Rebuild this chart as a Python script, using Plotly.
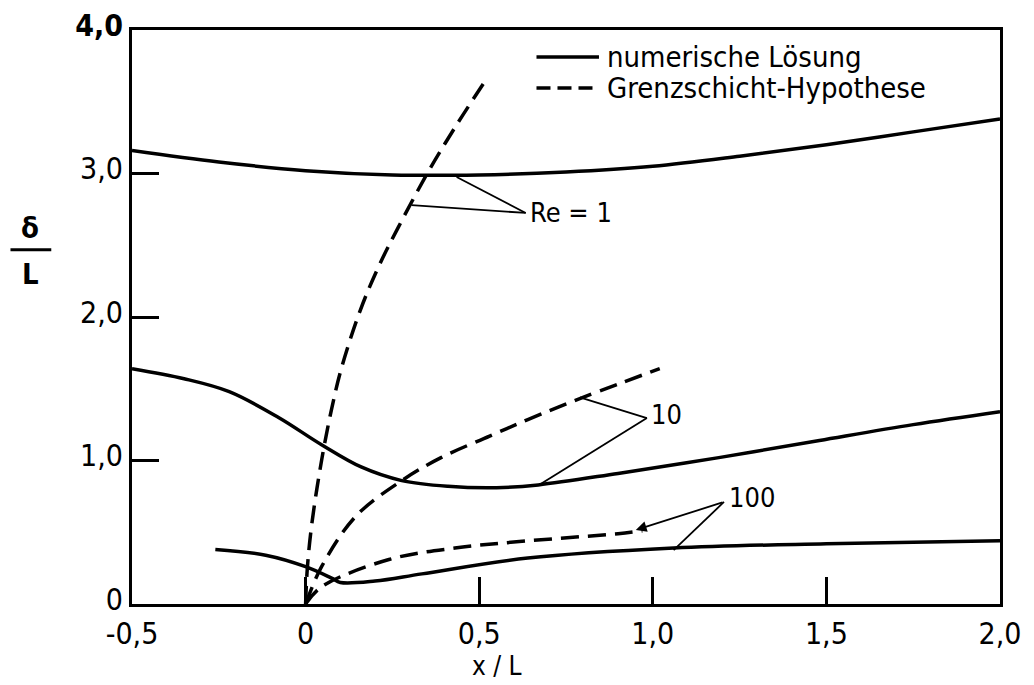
import plotly.graph_objects as go

# Boundary-layer thickness delta/L over x/L for three Reynolds numbers
# numerical solution (solid) and boundary-layer hypothesis (dashed)
re1_num_x = [-0.5, -0.25, 0.0, 0.25, 0.5, 0.75, 1.0, 1.25, 1.5, 1.75, 2.0]
re1_num_y = [3.16, 3.08, 3.02, 2.99, 2.99, 3.01, 3.05, 3.12, 3.20, 3.29, 3.38]

re1_hyp_x = [0.0, 0.005, 0.018, 0.046, 0.075, 0.104, 0.158, 0.21, 0.268, 0.355, 0.43, 0.513]
re1_hyp_y = [0.0, 0.25, 0.56, 1.0, 1.36, 1.65, 2.05, 2.35, 2.63, 3.02, 3.32, 3.63]

re10_num_x = [-0.5, -0.35, -0.22, -0.078, 0.046, 0.16, 0.277, 0.41, 0.55, 0.67, 0.9, 1.19, 1.48, 1.75, 2.0]
re10_num_y = [1.64, 1.57, 1.48, 1.30, 1.11, 0.955, 0.86, 0.82, 0.81, 0.83, 0.91, 1.02, 1.14, 1.25, 1.34]

re10_hyp_x = [0.0, 0.046, 0.144, 0.277, 0.39, 0.53, 0.64, 0.81, 1.02]
re10_hyp_y = [0.0, 0.26, 0.61, 0.86, 1.02, 1.17, 1.285, 1.45, 1.64]

re100_num_x = [-0.26, -0.115, 0.0, 0.075, 0.1, 0.2, 0.335, 0.64, 1.06, 1.5, 2.0]
re100_num_y = [0.38, 0.34, 0.26, 0.18, 0.15, 0.16, 0.21, 0.32, 0.39, 0.42, 0.44]

re100_hyp_x = [0.0, 0.046, 0.24, 0.43, 0.64, 0.90, 0.97]
re100_hyp_y = [0.0, 0.12, 0.31, 0.39, 0.44, 0.49, 0.51]

x_ticks = [-0.5, 0.0, 0.5, 1.0, 1.5, 2.0]
x_ticktext = ["-0,5", "0", "0,5", "1,0", "1,5", "2,0"]
y_ticks = [0, 1, 2, 3, 4]
y_ticktext = ["0", "1,0", "2,0", "3,0", "<b>4,0</b>"]

FONT = "DejaVu Sans Condensed, Roboto, sans-serif"
INK = "black"
LW = 3.5
DASH = "18px,9px"

fig = go.Figure()

series = [
    (re1_num_x, re1_num_y, "solid"),
    (re1_hyp_x, re1_hyp_y, DASH),
    (re10_num_x, re10_num_y, "solid"),
    (re10_hyp_x, re10_hyp_y, DASH),
    (re100_num_x, re100_num_y, "solid"),
    (re100_hyp_x, re100_hyp_y, DASH),
]
for xs, ys, dash in series:
    fig.add_trace(go.Scatter(
        x=xs, y=ys, mode="lines", showlegend=False, hoverinfo="skip",
        line=dict(color=INK, width=LW, dash=dash, shape="spline", smoothing=1.0),
    ))

# leader lines from the Reynolds-number labels to the curves
leaders = [
    ((0.634, 2.725), (0.435, 2.976)),
    ((0.634, 2.725), (0.305, 2.78)),
    ((0.983, 1.296), (0.79, 1.44)),
    ((0.983, 1.296), (0.677, 0.836)),
    ((1.205, 0.711), (1.06, 0.376)),
]
shapes = []
for (x0, y0), (x1, y1) in leaders:
    shapes.append(dict(type="line", xref="x", yref="y", x0=x0, y0=y0, x1=x1, y1=y1,
                       line=dict(color=INK, width=1.8)))

# legend samples
shapes.append(dict(type="line", xref="paper", yref="paper", x0=0.466, x1=0.538,
                   y0=0.953, y1=0.953, line=dict(color=INK, width=LW)))
shapes.append(dict(type="line", xref="paper", yref="paper", x0=0.466, x1=0.538,
                   y0=0.899, y1=0.899, line=dict(color=INK, width=LW, dash="14px,7px")))
# fraction bar of the y-axis label
shapes.append(dict(type="line", xref="paper", yref="paper", x0=-0.140, x1=-0.093,
                   y0=0.617, y1=0.617, line=dict(color=INK, width=3)))

annotations = [
    dict(text="numerische Lösung", x=0.545, y=0.953, xref="paper", yref="paper",
         xanchor="left", yanchor="middle", showarrow=False),
    dict(text="Grenzschicht-Hypothese", x=0.545, y=0.899, xref="paper", yref="paper",
         xanchor="left", yanchor="middle", showarrow=False),
    dict(text="Re = 1", x=0.64, y=2.725, xref="x", yref="y",
         xanchor="left", yanchor="middle", showarrow=False, font=dict(size=27)),
    dict(text="10", x=0.99, y=1.32, xref="x", yref="y",
         xanchor="left", yanchor="middle", showarrow=False, font=dict(size=27)),
    dict(text="100", x=1.215, y=0.74, xref="x", yref="y",
         xanchor="left", yanchor="middle", showarrow=False, font=dict(size=27)),
    # arrow of the Re = 100 leader onto the hypothesis curve
    dict(text="", x=0.951, y=0.516, ax=1.205, ay=0.711, xref="x", yref="y",
         axref="x", ayref="y", showarrow=True, arrowhead=2, arrowsize=1.2,
         arrowwidth=1.8, arrowcolor=INK),
    dict(text="x / L", x=0.55, y=-0.136, xref="x", yref="paper",
         xanchor="center", yanchor="bottom", showarrow=False, font=dict(size=26),
         borderpad=0),
    dict(text="<b>δ</b>", x=-0.117, y=0.655, xref="paper", yref="paper",
         xanchor="center", yanchor="middle", showarrow=False),
    dict(text="<b>L</b>", x=-0.117, y=0.575, xref="paper", yref="paper",
         xanchor="center", yanchor="middle", showarrow=False),
]

axis_common = dict(
    showline=True, mirror=True, linecolor=INK, linewidth=3,
    ticks="inside", ticklen=27, tickwidth=2.5, tickcolor=INK,
    showgrid=False, zeroline=False, automargin=False,
    tickfont=dict(family=FONT, size=30, color=INK),
)

fig.update_layout(
    width=1034, height=685,
    margin=dict(l=132, r=34, t=30, b=81),
    paper_bgcolor="white", plot_bgcolor="white",
    font=dict(family=FONT, size=29, color=INK),
    xaxis=dict(range=[-0.5, 2.0], tickvals=x_ticks, ticktext=x_ticktext,
               ticklabelstandoff=1, **axis_common),
    yaxis=dict(range=[0, 4], tickvals=y_ticks, ticktext=y_ticktext,
               ticklabelshift=-5, **axis_common),
    shapes=shapes,
    annotations=annotations,
    showlegend=False,
)

fig.write_html("out.html")
